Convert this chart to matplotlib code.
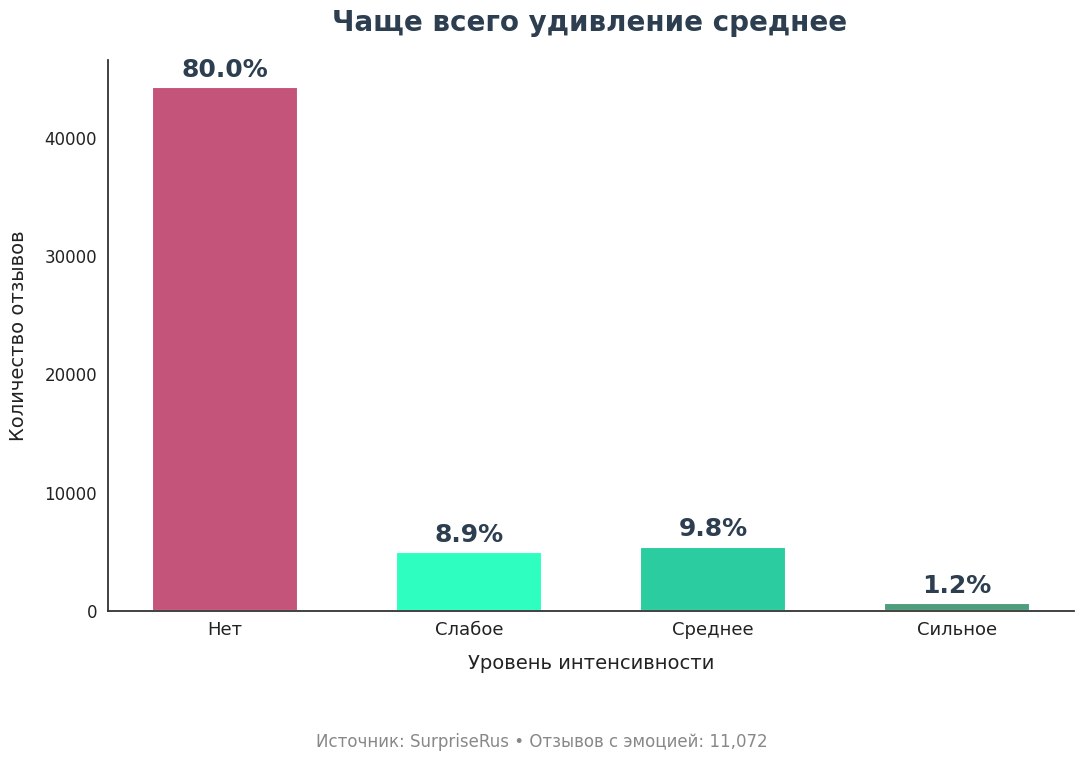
import numpy as np
import matplotlib.pyplot as plt

# данные
levels = ['Нет', 'Слабое', 'Среднее', 'Сильное']
counts = [44288, 4950, 5450, 672]
colors = ['#C5547A', '#2EFFC0', '#2ACCA0', '#4E9E7E']
total = sum(counts)
emotion_total = sum(counts[1:])

plt.rcParams['font.family'] = ['DejaVu Sans']

fig = plt.figure(figsize=(10.84, 7.62), dpi=100)
ax = fig.add_axes([108 / 1084, 1 - 611 / 762, (1074 - 108) / 1084, (611 - 60) / 762])

x = np.arange(len(levels))
ax.bar(x, counts, width=0.6, color=colors, edgecolor='#FFFFFF', linewidth=1.5)

for xi, c in zip(x, counts):
    ax.text(xi, c + 450, f'{c / total * 100:.1f}%', ha='center', va='bottom',
            fontsize=18, fontweight='bold', color='#2C3E50')

ax.set_xlim(-0.48, 3.48)
ax.set_ylim(0, max(counts) * 1.052)
ax.set_xticks(x)
ax.set_xticklabels(levels, fontsize=13, color='#222222')
ax.set_yticks([0, 10000, 20000, 30000, 40000])
ax.tick_params(axis='y', labelsize=12, colors='#222222', length=0, pad=8)
ax.tick_params(axis='x', length=0, pad=7)
ax.spines['top'].set_visible(False)
ax.spines['right'].set_visible(False)
ax.spines['left'].set_color('#333333')
ax.spines['bottom'].set_color('#333333')
ax.spines['left'].set_linewidth(1.3)
ax.spines['bottom'].set_linewidth(1.3)

ax.set_xlabel('Уровень интенсивности', fontsize=14, color='#222222', labelpad=11)
ax.set_ylabel('Количество отзывов', fontsize=14, color='#222222', labelpad=12)
fig.text(590 / 1084, 1 - 23 / 762, 'Чаще всего удивление среднее', ha='center', va='center',
         fontsize=20, fontweight='bold', color='#2C3E50')
fig.text(542 / 1084, 1 - 742 / 762, f'Источник: SurpriseRus • Отзывов с эмоцией: {emotion_total:,}',
         ha='center', va='center', fontsize=12, color='#888888')

fig.savefig('out.png', dpi=100)
